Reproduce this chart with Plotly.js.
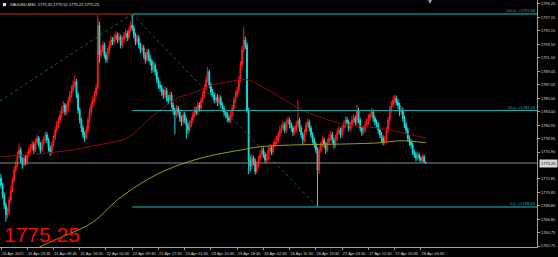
<!DOCTYPE html>
<html><head><meta charset="utf-8">
<script src="https://cdn.plot.ly/plotly-3.0.1.min.js"></script>
<style>html,body{margin:0;padding:0;background:#000;}#chart{width:558px;height:257px;}</style>
</head><body><div id="chart"></div>
<script>
const symbolTitle = "XAUUSD,M30  1775.31 1775.51 1775.22 1775.25";
const lastPrice = 1775.25;
const fibHigh = 1797.68;
const fibLow = 1768.63;

const opens = [1773.0,1771.9,1770.4,1768.9,1767.4,1767.9,1769.7,1771.2,1772.7,1774.2,
1775.0,1776.5,1777.2,1775.7,1775.0,1776.0,1775.4,1776.5,1777.2,1777.5,
1778.0,1777.2,1778.4,1779.0,1778.0,1777.2,1778.3,1778.7,1779.5,1778.7,
1777.5,1776.9,1778.0,1779.0,1780.2,1781.0,1781.7,1782.5,1783.2,1784.0,
1782.9,1783.5,1784.7,1785.5,1786.2,1787.0,1787.5,1785.5,1783.2,1781.7,
1780.5,1779.5,1779.0,1780.2,1781.7,1782.9,1784.0,1784.7,1785.5,1786.6,
1796.0,1791.5,1792.3,1793.0,1791.5,1790.8,1792.0,1793.0,1793.8,1793.5,
1794.1,1794.5,1793.8,1794.2,1793.0,1793.8,1794.5,1794.8,1794.1,1795.3,
1796.0,1795.6,1794.5,1793.5,1794.1,1793.0,1792.3,1792.6,1791.5,1790.8,
1792.0,1791.1,1790.5,1789.3,1790.0,1789.0,1787.8,1787.0,1786.6,1785.9,
1785.5,1786.2,1785.0,1784.7,1785.5,1784.0,1783.2,1782.5,1783.5,1782.9,
1782.0,1781.4,1782.5,1781.7,1781.0,1780.2,1781.0,1781.7,1782.5,1783.2,
1782.9,1784.0,1783.5,1784.7,1785.5,1786.6,1787.8,1789.0,1787.0,1785.9,
1785.5,1784.7,1785.2,1784.3,1785.0,1784.0,1783.5,1782.9,1782.5,1782.0,
1781.7,1782.5,1783.5,1784.7,1785.5,1786.2,1787.8,1790.0,1792.3,1793.8,
1793.0,1783.2,1775.6,1774.8,1776.0,1775.5,1774.0,1775.0,1775.9,1776.5,
1777.2,1776.5,1775.7,1776.0,1777.2,1777.5,1776.9,1778.0,1778.4,1778.7,
1779.5,1780.2,1780.5,1781.0,1780.2,1781.4,1781.7,1781.0,1780.5,1779.9,
1780.2,1781.0,1781.7,1780.5,1779.5,1778.7,1779.9,1781.0,1781.4,1780.5,
1779.5,1778.7,1778.0,1777.2,1774.2,1777.2,1778.0,1778.7,1778.0,1777.2,
1778.4,1779.0,1779.5,1778.7,1778.0,1779.0,1779.9,1780.2,1779.5,1780.5,
1781.0,1781.7,1781.4,1780.5,1781.0,1781.7,1782.0,1781.4,1783.2,1781.7,
1780.5,1779.9,1780.2,1781.0,1781.4,1782.0,1782.5,1782.9,1782.0,1781.4,
1781.0,1780.2,1779.5,1779.0,1778.4,1778.7,1780.2,1781.7,1783.2,1784.0,
1784.7,1785.0,1784.4,1784.0,1782.9,1783.2,1782.0,1781.0,1780.2,1779.0,
1778.4,1778.0,1776.9,1776.5,1776.0,1776.5,1776.0,1775.7,1776.2,1775.31];

const highs = [1773.6,1772.3,1770.8,1769.3,1768.5,1770.2,1771.8,1773.1,1774.8,1775.6,
1777.0,1778.2,1777.6,1776.1,1776.6,1776.4,1777.0,1777.8,1778.1,1778.6,
1778.4,1778.9,1779.5,1779.3,1778.4,1778.8,1779.2,1780.0,1779.9,1779.0,
1777.9,1778.5,1779.5,1780.7,1781.6,1782.2,1783.1,1783.8,1784.6,1784.3,
1784.1,1785.2,1786.1,1786.9,1787.7,1788.4,1787.9,1785.9,1783.6,1782.1,
1780.9,1780.0,1780.8,1782.2,1783.5,1784.5,1785.3,1786.1,1787.2,1797.5,
1796.6,1793.0,1793.6,1793.4,1792.0,1792.6,1793.6,1794.4,1794.2,1794.7,
1795.1,1794.9,1794.8,1794.6,1794.3,1795.0,1795.4,1795.2,1795.8,1796.6,
1797.68,1796.0,1794.9,1794.7,1794.5,1793.4,1793.2,1793.0,1791.9,1792.5,
1792.4,1791.5,1790.9,1790.6,1790.4,1789.4,1788.2,1787.5,1787.0,1786.4,
1786.8,1786.6,1785.5,1786.0,1785.9,1784.4,1783.6,1784.0,1783.9,1783.3,
1782.4,1783.0,1782.9,1782.1,1781.4,1781.6,1782.2,1783.0,1783.8,1783.7,
1784.5,1784.4,1785.2,1786.1,1787.1,1788.4,1789.7,1789.3,1787.4,1786.4,
1785.9,1785.8,1785.6,1785.5,1785.4,1784.4,1783.9,1783.3,1782.9,1782.4,
1783.0,1784.0,1785.2,1786.1,1786.8,1788.3,1790.6,1792.9,1795.7,1794.3,
1793.4,1783.6,1776.3,1776.6,1776.4,1775.9,1775.5,1776.3,1777.1,1777.8,
1777.6,1776.9,1776.6,1777.7,1778.1,1777.9,1778.5,1779.0,1779.3,1780.0,
1780.8,1781.1,1781.6,1781.4,1781.9,1782.3,1782.1,1781.4,1780.9,1780.8,
1781.6,1784.7,1782.1,1780.9,1779.9,1780.4,1781.5,1782.0,1781.8,1780.9,
1779.9,1779.1,1778.4,1777.6,1777.7,1778.5,1779.3,1779.1,1778.4,1778.9,
1779.6,1780.1,1779.9,1779.1,1779.5,1780.5,1780.8,1780.6,1781.0,1781.6,
1782.3,1782.2,1781.8,1781.5,1782.3,1782.6,1782.4,1784.0,1783.6,1782.1,
1780.9,1780.8,1781.6,1782.0,1782.6,1783.1,1783.5,1783.3,1782.4,1781.8,
1781.4,1780.6,1779.9,1779.4,1779.3,1780.7,1782.2,1783.8,1784.6,1785.3,
1785.5,1785.4,1784.9,1784.3,1783.8,1783.6,1782.4,1781.4,1780.6,1779.4,
1778.8,1778.3,1777.3,1776.9,1777.0,1776.8,1776.3,1776.6,1776.5,1775.51];

const lows = [1771.4,1769.9,1768.3,1766.4,1766.9,1767.5,1769.3,1770.8,1772.3,1773.8,
1774.6,1776.0,1775.2,1774.4,1774.7,1774.9,1775.0,1776.1,1776.8,1777.1,
1776.7,1776.9,1778.0,1777.6,1776.6,1776.9,1777.9,1778.3,1778.2,1777.0,
1776.3,1776.6,1777.7,1778.7,1779.8,1780.5,1781.3,1782.0,1782.8,1782.4,
1782.5,1783.1,1784.3,1785.1,1785.8,1786.6,1785.0,1782.7,1781.2,1779.9,
1779.0,1778.4,1778.7,1779.8,1781.3,1782.5,1783.6,1784.3,1785.1,1786.2,
1790.3,1791.0,1791.9,1791.0,1790.3,1790.4,1791.6,1792.6,1793.0,1793.1,
1793.7,1793.3,1793.4,1792.5,1792.6,1793.4,1794.1,1793.6,1793.8,1794.9,
1795.1,1794.0,1793.0,1793.1,1792.5,1791.8,1791.9,1791.0,1790.2,1790.4,
1790.6,1789.9,1788.8,1788.9,1788.4,1787.3,1786.4,1786.0,1785.3,1784.9,
1785.0,1784.5,1784.1,1784.3,1783.5,1782.5,1779.6,1782.1,1782.4,1781.5,
1780.8,1781.0,1781.2,1778.9,1779.6,1779.8,1780.6,1781.3,1782.1,1782.4,
1782.5,1783.0,1783.1,1784.3,1785.1,1786.2,1787.4,1786.5,1785.4,1785.0,
1784.2,1784.3,1783.8,1783.9,1783.5,1783.0,1782.3,1782.0,1781.4,1781.3,
1781.3,1782.1,1783.1,1784.3,1785.1,1785.8,1787.4,1789.6,1791.9,1792.4,
1782.8,1773.6,1774.0,1774.3,1774.9,1773.5,1773.6,1774.6,1775.4,1776.1,
1776.0,1775.2,1775.3,1775.6,1776.8,1776.4,1776.5,1777.6,1778.0,1778.3,
1779.1,1779.8,1780.1,1779.7,1779.8,1781.0,1780.5,1780.0,1779.3,1779.5,
1779.8,1780.6,1780.0,1779.0,1778.1,1778.3,1779.5,1780.6,1780.0,1779.0,
1778.2,1777.5,1776.7,1768.63,1773.6,1776.8,1777.6,1777.5,1776.6,1776.9,
1778.0,1778.6,1778.2,1777.4,1777.6,1778.6,1779.5,1779.0,1779.1,1780.1,
1780.6,1780.9,1780.0,1780.1,1780.6,1781.3,1780.9,1781.0,1781.2,1780.0,
1779.3,1779.5,1779.8,1780.6,1781.0,1781.6,1782.1,1781.5,1780.9,1780.5,
1779.7,1779.0,1778.4,1777.9,1778.0,1778.3,1779.8,1781.3,1782.8,1783.6,
1784.2,1783.9,1783.4,1782.3,1782.5,1781.5,1780.5,1779.6,1778.5,1777.8,
1777.4,1776.4,1776.0,1775.5,1775.7,1775.5,1775.3,1775.4,1775.2,1775.22];

const closes = [1771.9,1770.4,1768.9,1767.4,1767.9,1769.7,1771.2,1772.7,1774.2,1775.0,
1776.5,1777.2,1775.7,1775.0,1776.0,1775.4,1776.5,1777.2,1777.5,1778.0,
1777.2,1778.4,1779.0,1778.0,1777.2,1778.3,1778.7,1779.5,1778.7,1777.5,
1776.9,1778.0,1779.0,1780.2,1781.0,1781.7,1782.5,1783.2,1784.0,1782.9,
1783.5,1784.7,1785.5,1786.2,1787.0,1787.5,1785.5,1783.2,1781.7,1780.5,
1779.5,1779.0,1780.2,1781.7,1782.9,1784.0,1784.7,1785.5,1786.6,1796.0,
1791.5,1792.3,1793.0,1791.5,1790.8,1792.0,1793.0,1793.8,1793.5,1794.1,
1794.5,1793.8,1794.2,1793.0,1793.8,1794.5,1794.8,1794.1,1795.3,1796.0,
1795.6,1794.5,1793.5,1794.1,1793.0,1792.3,1792.6,1791.5,1790.8,1792.0,
1791.1,1790.5,1789.3,1790.0,1789.0,1787.8,1787.0,1786.6,1785.9,1785.5,
1786.2,1785.0,1784.7,1785.5,1784.0,1783.2,1782.5,1783.5,1782.9,1782.0,
1781.4,1782.5,1781.7,1781.0,1780.2,1781.0,1781.7,1782.5,1783.2,1782.9,
1784.0,1783.5,1784.7,1785.5,1786.6,1787.8,1789.0,1787.0,1785.9,1785.5,
1784.7,1785.2,1784.3,1785.0,1784.0,1783.5,1782.9,1782.5,1782.0,1781.7,
1782.5,1783.5,1784.7,1785.5,1786.2,1787.8,1790.0,1792.3,1793.8,1793.0,
1783.2,1775.6,1774.8,1776.0,1775.5,1774.0,1775.0,1775.9,1776.5,1777.2,
1776.5,1775.7,1776.0,1777.2,1777.5,1776.9,1778.0,1778.4,1778.7,1779.5,
1780.2,1780.5,1781.0,1780.2,1781.4,1781.7,1781.0,1780.5,1779.9,1780.2,
1781.0,1781.7,1780.5,1779.5,1778.7,1779.9,1781.0,1781.4,1780.5,1779.5,
1778.7,1778.0,1777.2,1774.2,1777.2,1778.0,1778.7,1778.0,1777.2,1778.4,
1779.0,1779.5,1778.7,1778.0,1779.0,1779.9,1780.2,1779.5,1780.5,1781.0,
1781.7,1781.4,1780.5,1781.0,1781.7,1782.0,1781.4,1783.2,1781.7,1780.5,
1779.9,1780.2,1781.0,1781.4,1782.0,1782.5,1782.9,1782.0,1781.4,1781.0,
1780.2,1779.5,1779.0,1778.4,1778.7,1780.2,1781.7,1783.2,1784.0,1784.7,
1785.0,1784.4,1784.0,1782.9,1783.2,1782.0,1781.0,1780.2,1779.0,1778.4,
1778.0,1776.9,1776.5,1776.0,1776.5,1776.0,1775.7,1776.2,1775.4,1775.25];

// time-axis labels, one every 16 bars
const timeLabels = ["20 Apr 2021","20 Apr 23:30","21 Apr 08:30","21 Apr 16:30","22 Apr 00:30",
"22 Apr 09:30","22 Apr 17:30","23 Apr 01:30","23 Apr 10:30","23 Apr 18:30","24 Apr 02:30",
"26 Apr 11:30","26 Apr 19:30","27 Apr 03:30","27 Apr 12:30","27 Apr 20:30","28 Apr 04:30"];
const timeLabelBars = [0,16,32,48,64,80,96,112,128,144,160,176,192,208,224,240,256];

const priceLabels = ["1799.20","1797.15","1795.15","1793.10","1791.10","1789.05","1787.05","1785.00",
"1783.00","1780.95","1778.95","1776.90","1772.85","1770.85","1768.80","1766.80","1764.75","1762.75"];

// moving averages (bar index, value)
const maRedBars = [0,15,40,60,70,77,91,103,109,115,129,139,150,161,170,184,200,211,231,243,259];
const maRedVals = [1776.2,1776.5,1777.1,1778.0,1778.5,1779.0,1782.0,1784.3,1785.2,1785.6,1787.0,1787.5,1787.8,1786.5,1785.2,1783.2,1781.7,1781.0,1780.5,1779.9,1779.0];
const maYellowBars = [14,22,36,50,58,71,91,109,127,146,158,182,207,231,243,259];
const maYellowVals = [1761.0,1762.4,1764.0,1765.5,1766.7,1769.7,1773.0,1775.0,1776.3,1777.2,1777.7,1778.0,1778.1,1778.3,1778.6,1778.3];

// fib anchor bars
const fibHighBar = 80, fibLowBar = 193;
const leftTrendStart = {bar: -0.6, price: 1784.6};

const bars = closes.map((_, i) => i);
const X0 = -0.61, X1 = 326.8;
const Y0 = 1762.6, Y1 = 1799.8;

const traces = [
  {type:'scatter', mode:'lines', x: maYellowBars, y: maYellowVals, line:{color:'#9a9a18', width:1, shape:'spline'}, hoverinfo:'skip'},
  {type:'scatter', mode:'lines', x: maRedBars, y: maRedVals, line:{color:'#8e0c0c', width:1, shape:'spline'}, hoverinfo:'skip'},
  {type:'candlestick', x: bars, open: opens, high: highs, low: lows, close: closes,
   increasing:{line:{color:'#ff1a1a', width:1}, fillcolor:'#ff1a1a'},
   decreasing:{line:{color:'#16e0e0', width:1}, fillcolor:'#16e0e0'},
   whiskerwidth:0, hoverinfo:'skip'}
];

const fibMid = (fibHigh + fibLow) / 2;
const shapes = [
  {type:'line', xref:'x', yref:'y', x0:X0, x1:fibHighBar, y0:fibHigh, y1:fibHigh, line:{color:'#8a1c10', width:1.5}},
  {type:'line', xref:'x', yref:'y', x0:fibHighBar, x1:X1, y0:fibHigh, y1:fibHigh, line:{color:'#10807e', width:1.5}},
  {type:'line', xref:'x', yref:'y', x0:fibHighBar, x1:X1, y0:fibMid, y1:fibMid, line:{color:'#1ab0b0', width:1}},
  {type:'line', xref:'x', yref:'y', x0:fibHighBar, x1:X1, y0:fibLow, y1:fibLow, line:{color:'#10807e', width:1.5}},
  {type:'line', xref:'x', yref:'y', x0:fibHighBar, x1:fibLowBar, y0:fibHigh, y1:fibLow, line:{color:'#0d6a45', width:1, dash:'dot'}},
  {type:'line', xref:'x', yref:'y', x0:leftTrendStart.bar, x1:fibHighBar, y0:leftTrendStart.price, y1:fibHigh, line:{color:'#0d6a45', width:1, dash:'dot'}},
  {type:'line', xref:'paper', yref:'y', x0:0, x1:1, y0:lastPrice, y1:lastPrice, line:{color:'#8c8c8c', width:1}},
  {type:'rect', xref:'paper', yref:'paper', x0:3/537, x1:6/537, y0:1-6/247, y1:1-3/247, fillcolor:'#e0e0e0', line:{width:0}},
  {type:'path', xref:'paper', yref:'paper', path:'M ' + (428/537) + ' 1 L ' + (432/537) + ' 1 L ' + (430/537) + ' ' + (1-4/247) + ' Z', fillcolor:'#a0a0a0', line:{width:0}}
];

const fibFont = {family:'Liberation Sans', size:4, color:'#1ab0b0'};
const annotations = [
  {xref:'paper', yref:'paper', x:8/537, y:1-5/247, xanchor:'left', yanchor:'middle', text:symbolTitle, showarrow:false, font:{family:'Liberation Sans', size:4, color:'#e6e6e6'}},
  {xref:'paper', yref:'y', x:1, y:fibHigh, xanchor:'right', yanchor:'bottom', text:'100.0 ->' + fibHigh.toFixed(2), showarrow:false, font:fibFont, borderpad:0},
  {xref:'paper', yref:'y', x:1, y:fibMid, xanchor:'right', yanchor:'bottom', text:'50.0 ->' + fibMid.toFixed(2), showarrow:false, font:fibFont, borderpad:0},
  {xref:'paper', yref:'y', x:1, y:fibLow, xanchor:'right', yanchor:'bottom', text:'0.0 ->' + fibLow.toFixed(2), showarrow:false, font:fibFont, borderpad:0},
  {xref:'paper', yref:'y', x:1.004, y:lastPrice, xanchor:'left', yanchor:'middle', text:lastPrice.toFixed(2), showarrow:false, bgcolor:'#d8d8d8', font:{family:'Liberation Sans', size:4, color:'#000'}, borderpad:1},
  {xref:'paper', yref:'paper', x:2/537, y:1-234/247, xanchor:'left', yanchor:'middle', text:lastPrice.toFixed(2), showarrow:false, font:{family:'Liberation Sans', size:21, color:'#ff0000'}}
];

const layout = {
  width:558, height:257,
  margin:{l:0, r:21, t:0, b:10, pad:0},
  paper_bgcolor:'#000', plot_bgcolor:'#000',
  showlegend:false, hovermode:false,
  xaxis:{range:[X0, X1], showgrid:false, zeroline:false, showline:true, linecolor:'#a0a0a0', linewidth:1,
    ticks:'outside', ticklen:2, tickcolor:'#a0a0a0', tickvals:timeLabelBars, ticktext:timeLabels,
    tickfont:{family:'Liberation Sans', size:4, color:'#d8d8d8'}, ticklabelshift:12, ticklabelstandoff:0,
    rangeslider:{visible:false}, fixedrange:true},
  yaxis:{range:[Y0, Y1], side:'right', showgrid:false, zeroline:false, showline:true, linecolor:'#a0a0a0', linewidth:1,
    ticks:'outside', ticklen:2, tickcolor:'#a0a0a0', tickvals:priceLabels.map(Number), ticktext:priceLabels,
    tickfont:{family:'Liberation Sans', size:4, color:'#d8d8d8'}, fixedrange:true},
  shapes:shapes, annotations:annotations
};

Plotly.newPlot('chart', traces, layout, {displayModeBar:false, staticPlot:true});
</script></body></html>
